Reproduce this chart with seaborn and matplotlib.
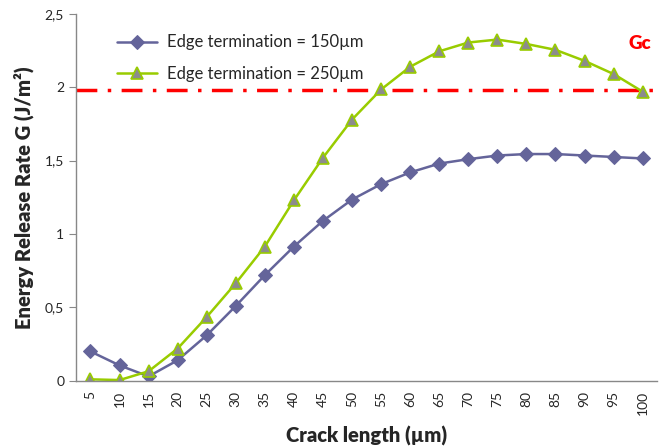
import numpy as np
import pandas as pd
import matplotlib
matplotlib.use('Agg')
import matplotlib.pyplot as plt
import seaborn as sns

crack = [5, 10, 15, 20, 25, 30, 35, 40, 45, 50, 55, 60, 65, 70, 75, 80, 85, 90, 95, 100]
g_150 = [0.20, 0.105, 0.03, 0.14, 0.31, 0.51, 0.72, 0.915, 1.09, 1.235, 1.34, 1.42,
         1.48, 1.51, 1.535, 1.545, 1.545, 1.535, 1.525, 1.515]
g_250 = [0.01, 0.005, 0.065, 0.22, 0.435, 0.665, 0.915, 1.23, 1.52, 1.78, 1.985, 2.14,
         2.245, 2.305, 2.325, 2.295, 2.255, 2.18, 2.09, 1.97]
gc = 1.98
y_ticks = [0, 0.5, 1, 1.5, 2, 2.5]
y_labels = ['0', '0,5', '1', '1,5', '2', '2,5']
lab_150 = 'Edge termination = 150µm'
lab_250 = 'Edge termination = 250µm'

sns.set_style('white')
plt.rcParams['font.family'] = ['Lato', 'DejaVu Sans']

pos = np.arange(len(crack))
df = pd.DataFrame({
    'pos': np.concatenate([pos, pos]),
    'G': g_150 + g_250,
    'serie': [lab_150] * len(crack) + [lab_250] * len(crack),
})

fig = plt.figure(figsize=(6.72, 4.48), dpi=100)
ax = fig.add_axes([0.113, 0.150, 0.865, 0.819])

sns.lineplot(data=df[df.serie == lab_150], x='pos', y='G', ax=ax, color='#64649A',
             marker='D', markersize=7, markerfacecolor='#64649A', markeredgecolor='#64649A',
             linewidth=1.8, label=lab_150)
sns.lineplot(data=df[df.serie == lab_250], x='pos', y='G', ax=ax, color='#99CC00',
             marker='^', markersize=9, markerfacecolor='#8C8C8C', markeredgecolor='#99CC00',
             markeredgewidth=1.2, linewidth=1.8, label=lab_250)

ax.axhline(gc, color='#FF0000', linestyle=(0, (6, 3, 1, 3)), linewidth=2.5, zorder=1)
ax.text(0.99, 0.92, 'Gc', transform=ax.transAxes, color='#FF0000', fontsize=13.5,
        fontweight='heavy', ha='right', va='center')

ax.set_xlim(-0.5, len(crack) - 0.5)
ax.set_ylim(0, 2.5)
ax.set_yticks(y_ticks)
ax.set_yticklabels(y_labels, fontsize=10)
ax.set_xticks(pos)
ax.set_xticklabels([str(c) for c in crack], rotation=90, fontsize=10)
ax.set_xticks(np.arange(-0.5, len(crack)), minor=True)
ax.tick_params(axis='x', which='major', length=0, pad=7)
ax.tick_params(axis='x', which='minor', length=5, color='#888888', direction='out')
ax.tick_params(axis='y', length=5, color='#888888', direction='out', left=True)

for s in ['top', 'right']:
    ax.spines[s].set_visible(False)
for s in ['left', 'bottom']:
    ax.spines[s].set_color('#888888')
    ax.spines[s].set_linewidth(1)

ax.set_xlabel('Crack length (µm)', fontsize=14.5, fontweight='heavy', labelpad=8)
ax.set_ylabel('Energy Release Rate G (J/m²)', fontsize=14.5, fontweight='heavy', labelpad=8)

ax.legend(loc='upper left', bbox_to_anchor=(0.045, 0.985), frameon=False, fontsize=12,
          handlelength=2.4, handletextpad=0.6, labelspacing=0.95)

plt.savefig('out.png', dpi=100)
